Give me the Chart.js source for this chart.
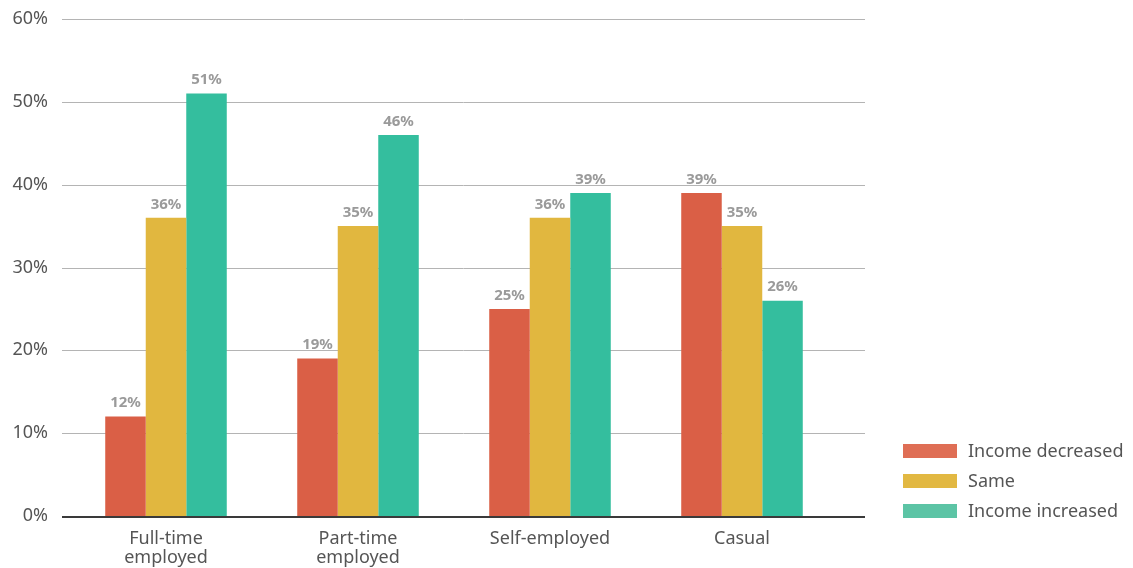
<!DOCTYPE html>
<html>
<head>
<meta charset="utf-8">
<script src="https://cdn.jsdelivr.net/npm/chart.js@4/dist/chart.umd.min.js"></script>
<style>
  html, body { margin: 0; padding: 0; background: #fff; }
  #wrap { width: 1133px; height: 568px; position: relative; }
</style>
</head>
<body>
<div id="wrap"><canvas id="myBarChart"></canvas></div>
<script>
const categories = [['Full-time', 'employed'], ['Part-time', 'employed'], 'Self-employed', 'Casual'];
const seriesNames = ['Income decreased', 'Same', 'Income increased'];
const incomeDecreased = [12, 19, 25, 39];
const incomeSame = [36, 35, 36, 35];
const incomeIncreased = [51, 46, 39, 26];
const yTicks = [0, 10, 20, 30, 40, 50, 60];

const barColors = ['#da5f46', '#e1b73f', '#34be9e'];
const legendColors = ['#df6e55', '#e2b842', '#5cc4a5'];
const FONT = '"Noto Sans", sans-serif';

// long grid lines under the bars, a bit wider than the plot area
const gridPlugin = {
    id: 'grid_lines',
    beforeDatasetsDraw(chart) {
        const ctx = chart.ctx;
        const y = chart.scales.y;
        ctx.save();
        for (const t of yTicks) {
            const py = Math.round(y.getPixelForValue(t));
            if (t === 0) continue;
            ctx.strokeStyle = '#b4b4b4';
            ctx.lineWidth = 1;
            ctx.beginPath();
            ctx.moveTo(62, py + 0.5);
            ctx.lineTo(865, py + 0.5);
            ctx.stroke();
        }
        ctx.restore();
    },
    afterDatasetsDraw(chart) {
        const ctx = chart.ctx;
        const py = Math.round(chart.scales.y.getPixelForValue(0));
        ctx.save();
        ctx.strokeStyle = '#3a3a3a';
        ctx.lineWidth = 2;
        ctx.beginPath();
        ctx.moveTo(62, py + 1);
        ctx.lineTo(865, py + 1);
        ctx.stroke();
        ctx.restore();
    }
};

// value labels above the bars
const valuePlugin = {
    id: 'value_labels',
    afterDatasetsDraw(chart) {
        const ctx = chart.ctx;
        ctx.save();
        ctx.font = 'bold 15px ' + FONT;
        ctx.fillStyle = '#9a9a9a';
        ctx.textAlign = 'center';
        ctx.textBaseline = 'bottom';
        chart.data.datasets.forEach((ds, i) => {
            chart.getDatasetMeta(i).data.forEach((bar, j) => {
                ctx.fillText(ds.data[j] + '%', bar.x, bar.y - 6);
            });
        });
        ctx.restore();
    }
};

// legend in the lower right corner
const legendPlugin = {
    id: 'side_legend',
    afterDraw(chart) {
        const ctx = chart.ctx;
        ctx.save();
        ctx.font = '18px ' + FONT;
        ctx.textBaseline = 'middle';
        ctx.textAlign = 'left';
        seriesNames.forEach((name, i) => {
            const cy = 451 + i * 30;
            ctx.fillStyle = legendColors[i];
            ctx.fillRect(903, cy - 7, 54, 14);
            ctx.fillStyle = '#555';
            ctx.fillText(name, 968, cy + 1);
        });
        ctx.restore();
    }
};

function createChartBar() {
    const ctxBar = document.getElementById('myBarChart');
    const values = [incomeDecreased, incomeSame, incomeIncreased];
    new Chart(ctxBar, {
        type: 'bar',
        data: {
            labels: categories,
            datasets: seriesNames.map((name, i) => ({
                label: name,
                data: values[i],
                backgroundColor: barColors[i],
                borderWidth: 0,
                barPercentage: 1,
                categoryPercentage: 0.633
            }))
        },
        options: {
            responsive: false,
            animation: false,
            devicePixelRatio: 1,
            layout: { padding: { top: 19, right: 295, left: 0, bottom: 0 } },
            plugins: {
                legend: { display: false },
                tooltip: { enabled: false }
            },
            scales: {
                x: {
                    afterFit(scale) { scale.height = 52; },
                    grid: { display: false, drawTicks: false },
                    border: { display: false },
                    ticks: {
                        color: '#555',
                        font: { family: FONT, size: 18, lineHeight: 1.08 },
                        padding: 13,
                        maxRotation: 0,
                        autoSkip: false
                    }
                },
                y: {
                    min: 0,
                    max: 60,
                    afterFit(scale) {
                        scale.width = 70;
                        scale.paddingTop = 0;
                        scale.paddingBottom = 0;
                    },
                    grid: { display: false, drawTicks: false },
                    border: { display: false },
                    ticks: {
                        stepSize: 10,
                        color: '#555',
                        font: { family: FONT, size: 18 },
                        padding: 22,
                        callback: v => v + '%'
                    }
                }
            }
        },
        plugins: [gridPlugin, valuePlugin, legendPlugin]
    });
}

const cv = document.getElementById('myBarChart');
cv.width = 1133;
cv.height = 568;
cv.style.width = '1133px';
cv.style.height = '568px';
createChartBar();
</script>
</body>
</html>
